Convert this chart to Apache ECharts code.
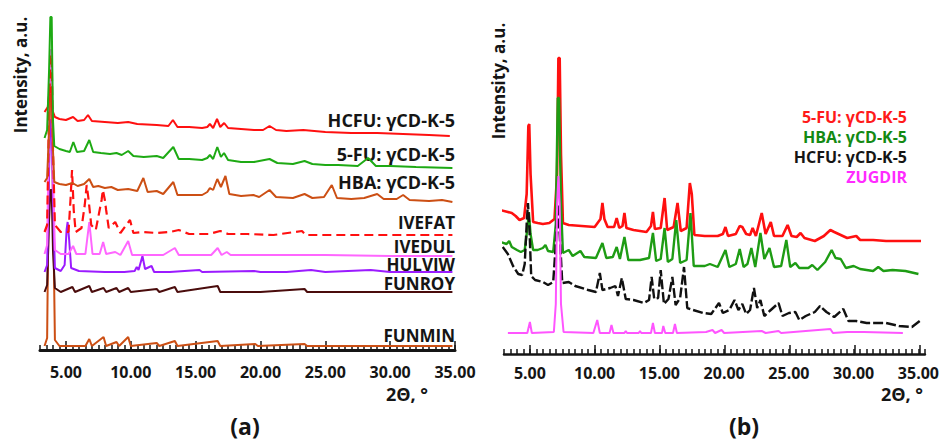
<!DOCTYPE html>
<html><head><meta charset="utf-8">
<script src="https://cdn.jsdelivr.net/npm/echarts@6/dist/echarts.min.js"></script>
<style>html,body{margin:0;padding:0;background:#fff}#c{width:942px;height:442px}</style>
</head><body><div id="c"></div>
<script>
// ---------- tick labels ----------
const tickLabels = [5, 10, 15, 20, 25, 30, 35];

// ---------- panel (a) series: [2θ, intensity a.u. (offset)] ----------
const hcfuA = [[3.35,238],[3.6,243],[3.75,262],[3.85,262],[3.95,240],[4.15,233],[4.5,231],[5.0,230],[5.55,233],[5.9,229],[6.4,230],[6.7,235],[7.0,229],[8.0,228],[9.0,227],[9.8,228],[10.5,226],[12.0,225],[12.9,224],[13.25,230],[13.6,223],[14.5,223],[15.5,222],[15.9,223],[16.1,226],[16.35,222],[16.65,231],[16.9,223],[17.2,227],[17.5,222],[18.5,221],[19.5,220],[20.2,220],[20.7,224],[21.2,220],[22,219],[23.3,220],[25,218],[27,217],[29,217],[31,216],[33,215],[34.6,214]];
const fuA = [[3.35,212],[3.55,220],[3.7,280],[3.8,333],[3.9,333],[4.0,230],[4.1,204],[4.5,201],[5.0,199],[5.3,198],[5.57,208],[5.85,198],[6.4,199],[6.8,210],[7.1,198],[7.7,197],[8.4,196],[8.9,197],[9.3,195],[9.8,199],[10.2,194],[11,193],[12,194],[12.5,192],[13.28,203],[13.7,191],[14.5,191],[15.5,190],[15.9,192],[16.1,195],[16.35,191],[16.67,203],[16.95,193],[17.19,197],[17.5,190],[18.5,188],[19.5,188],[20.7,191],[21.3,187],[22.5,186],[23.4,189],[24,186],[25,185],[26,185],[27.5,184],[28.3,192],[28.9,184],[30,184],[32,183],[34.8,182]];
const hbaA = [[3.35,168],[3.55,172],[3.7,220],[3.8,255],[3.9,255],[4.0,200],[4.1,168],[4.5,166],[5.0,165],[5.5,167],[5.9,164],[6.4,166],[6.8,171],[7.1,163],[7.5,164],[8.0,162],[8.5,163],[9.0,160],[9.8,161],[10.5,159],[10.97,172],[11.3,158],[12.0,159],[12.5,156],[13.28,168],[13.6,155],[14.5,155],[15.5,155],[15.9,158],[16.1,162],[16.35,160],[16.67,171],[16.95,163],[17.3,174],[17.6,156],[18.5,154],[19.45,155],[19.9,153],[20.7,160],[21.2,153],[22.5,152],[23.4,156],[24,152],[24.9,153],[25.5,165],[25.9,152],[27,151],[28,152],[29,156],[29.5,151],[30.5,151],[31,155],[31.5,150],[33,149],[34,150],[34.8,148]];
const ivefatA = [[3.35,118],[3.55,125],[3.7,240],[3.8,295],[3.9,295],[4.0,200],[4.15,125],[4.6,118],[5.2,118],[5.35,150],[5.47,180],[5.6,140],[5.75,118],[6.2,122],[6.45,145],[6.6,165],[6.75,150],[6.95,125],[7.3,120],[7.75,150],[7.85,160],[8.0,150],[8.1,140],[8.3,122],[8.8,128],[9.2,117],[9.94,130],[10.2,117],[11,118],[12,117],[13,118],[13.7,120],[14.5,116],[16.0,116],[16.9,119],[17.5,116],[19,116],[21,115],[23.2,119],[23.5,115],[26,115],[30,115],[34.8,115]];
const ivedulA = [[3.35,96],[3.55,105],[3.7,230],[3.8,300],[3.9,300],[4.0,180],[4.15,100],[4.6,96],[5.2,96],[5.55,104],[5.8,96],[6.5,96],[6.8,128],[7.05,96],[7.6,96],[7.87,108],[8.1,96],[8.8,98],[9.2,95],[9.8,109],[10.1,95],[11,95],[12.5,95],[13.4,102],[13.7,95],[15,95],[16.2,95],[16.7,102],[17.0,95],[17.4,98],[17.7,95],[20,95],[25,95],[30,94],[34.8,94]];
const hulviwA = [[3.35,78],[3.55,85],[3.7,180],[3.8,230],[3.9,230],[4.0,150],[4.15,82],[4.6,79],[4.9,85],[5.05,120],[5.13,128],[5.25,110],[5.4,82],[6,79],[8,78],[9.5,78],[10.3,79],[10.46,83],[10.6,80],[10.9,94],[11.1,81],[11.6,84],[11.8,78],[13,78],[15.3,80],[15.5,78],[19.5,79],[20,78],[22,78],[23.9,80],[25,78],[28.5,80],[30,78],[34.8,78]];
const funroyA = [[3.35,58],[3.55,65],[3.7,130],[3.8,160],[3.9,160],[4.0,100],[4.15,62],[4.6,58],[5.5,63],[5.7,58],[6.8,64],[7.0,58],[7.9,62],[8.1,58],[8.9,62],[9.1,58],[9.8,62],[10,58],[12,61],[12.2,58],[13.4,63],[13.6,58],[16.7,64],[16.9,58],[20,58],[23.4,61],[23.6,58],[34.8,58]];
const funminA = [[3.35,4],[3.55,12],[3.7,200],[3.8,290],[3.9,290],[4.0,150],[4.15,10],[4.5,4],[6.5,4],[6.8,11],[7.0,4],[7.9,13],[8.1,4],[8.9,8],[9.1,4],[9.8,13],[10,4],[12.0,7],[12.2,4],[13.4,9],[13.6,4],[16.7,9],[16.9,4],[19.6,6],[19.8,4],[23.4,6],[23.6,4],[34.8,4]];

// ---------- panel (b) series ----------
const fuB = [[2.7,144],[3.3,142],[3.6,141],[3.9,138],[4.2,134],[4.55,136],[4.75,160],[4.88,228],[4.95,230],[5.05,180],[5.25,132],[5.6,131],[6.0,130],[6.5,131],[6.9,135],[7.1,180],[7.2,296],[7.3,296],[7.4,200],[7.55,131],[8,129],[9,128],[10,127],[10.45,135],[10.6,151],[10.75,135],[11.0,127],[11.5,127],[11.7,136],[11.9,126],[12.15,128],[12.3,141],[12.45,126],[13,124],[14,122],[14.35,128],[14.5,142],[14.65,125],[15.1,126],[15.4,156],[15.6,124],[16.1,127],[16.4,151],[16.65,123],[17.1,126],[17.35,171],[17.5,160],[17.7,119],[18.5,118],[19.5,118],[19.9,120],[20.1,127],[20.3,118],[20.9,120],[21.2,128],[21.4,127],[21.7,120],[22.0,119],[22.2,126],[22.45,118],[22.9,141],[23.2,120],[23.6,132],[23.85,118],[24.5,118],[24.9,129],[25.2,118],[25.6,117],[25.9,121],[26.2,116],[27,113],[27.7,118],[28.2,124],[28.5,122],[29,119],[29.5,116],[30.2,118],[30.5,114],[31.5,114],[32.5,113],[33.5,113],[35.2,113]];
const hbaB = [[2.7,112],[3.2,110],[3.4,113],[3.6,107],[4.0,104],[4.3,102],[4.6,104],[4.8,125],[4.92,142],[5.05,120],[5.25,104],[5.6,104],[6.0,106],[6.2,109],[6.4,103],[6.8,102],[7.0,130],[7.15,256],[7.25,256],[7.4,150],[7.55,101],[8.0,104],[8.3,98],[8.9,103],[9.2,97],[10.1,96],[10.6,111],[10.9,96],[11.4,97],[11.7,107],[11.95,95],[12.3,117],[12.6,94],[13.5,94],[14.2,96],[14.5,121],[14.75,93],[15.1,95],[15.4,126],[15.65,92],[16.0,95],[16.3,134],[16.6,91],[17.1,94],[17.4,141],[17.65,88],[18.5,88],[18.9,90],[19.5,87],[20.1,104],[20.4,87],[20.9,90],[21.2,105],[21.5,87],[21.8,90],[22.1,106],[22.4,87],[22.8,121],[23.1,95],[23.5,106],[23.85,87],[24.4,88],[24.8,114],[25.1,87],[25.5,91],[25.8,86],[26.5,86],[26.8,89],[27.2,84],[27.8,92],[28.3,104],[28.6,96],[29.0,95],[29.4,86],[30,88],[30.5,85],[31.5,83],[31.9,87],[32.3,83],[33,84],[34,83],[35,80]];
const hcfuB = [[2.9,107],[3.3,100],[3.7,88],[4.1,80],[4.4,79],[4.6,90],[4.75,130],[4.85,151],[4.95,130],[5.1,78],[5.4,74],[6.0,72],[6.4,69],[6.8,72],[7.0,110],[7.15,150],[7.3,120],[7.5,71],[8.0,72],[8.5,68],[9.5,64],[10.1,62],[10.4,81],[10.6,64],[11.2,66],[11.6,68],[11.8,58],[12.1,76],[12.4,55],[13.0,54],[13.8,51],[14.2,54],[14.4,77],[14.6,55],[14.9,56],[15.1,84],[15.35,50],[15.7,55],[16.0,77],[16.25,49],[16.6,56],[16.9,87],[17.15,46],[17.6,44],[18.4,41],[19.0,40],[19.6,51],[19.9,41],[20.4,44],[20.8,54],[21.1,44],[21.4,50],[21.7,40],[22.0,44],[22.3,66],[22.55,46],[22.8,54],[23.1,38],[23.6,44],[24.2,51],[24.5,38],[25.0,41],[25.5,42],[25.8,34],[26.3,38],[27.0,42],[27.4,48],[27.9,42],[28.5,37],[29.2,45],[29.6,33],[30.2,33],[31,31],[31.5,31],[32.5,31],[33.5,28],[34.5,27],[35.2,34]];
const zugdirB = [[3.3,21],[4.8,21],[5.0,32],[5.15,21],[6.85,22],[7.0,50],[7.1,150],[7.2,178],[7.3,150],[7.4,50],[7.6,22],[9.9,21],[10.2,34],[10.4,21],[11.15,21],[11.3,29],[11.45,21],[12.3,21],[12.4,23],[12.5,21],[13.4,21],[13.5,23],[13.6,21],[14.35,21],[14.5,31],[14.65,21],[15.2,21],[15.3,28],[15.45,21],[16.05,21],[16.2,30],[16.35,21],[18.6,22],[19.1,24],[19.3,21],[19.8,24],[20.0,21],[22.9,23],[23.2,21],[24.2,23],[24.4,21],[28.2,25],[28.4,21],[29.5,22],[30.8,22],[33.8,21]];

const FONT = '"Open Sans", "DejaVu Sans", sans-serif';
const INK = '#151515';

function mainX(gi, max, lw, margin) {
  return {
    type: 'value', gridIndex: gi, position: 'bottom', min: 3, max: max, interval: 0.5,
    axisLine: { show: true, onZero: false, lineStyle: { color: INK, width: lw } },
    axisTick: { show: true, inside: true, length: 5, lineStyle: { color: INK, width: 1.5 } },
    axisLabel: { show: true, customValues: tickLabels, formatter: v => v.toFixed(2),
      fontFamily: FONT, fontWeight: 'bold', fontSize: 16, color: INK, margin: margin },
    splitLine: { show: false }
  };
}
function majorX(gi, max) {
  return {
    type: 'value', gridIndex: gi, position: 'bottom', min: 3, max: max, interval: 0.5,
    axisLine: { show: false, onZero: false },
    axisTick: { show: true, inside: true, length: 9, customValues: tickLabels, lineStyle: { color: INK, width: 1.5 } },
    axisLabel: { show: false }, splitLine: { show: false }
  };
}
function yAx(gi, max) {
  return { type: 'value', gridIndex: gi, min: 0, max: max, show: false };
}
function ser(name, data, color, xi, yi, width, dash) {
  return {
    name: name, type: 'line', data: data, xAxisIndex: xi, yAxisIndex: yi,
    symbol: 'none', showSymbol: false, clip: false, animation: false,
    lineStyle: { color: color, width: width, type: dash || 'solid' }
  };
}
function txt(x, y, s, color, size, align, rot) {
  return {
    type: 'text', x: x, y: y, rotation: rot || 0,
    style: { text: s, fill: color, font: 'bold ' + size + 'px ' + FONT,
      textAlign: align, textVerticalAlign: 'middle' }
  };
}

const gridA = { left: 40, right: 487, top: 17, bottom: 92 };
const gridB = { left: 504, right: 15.5, top: 20, bottom: 88 };

const chart = echarts.init(document.getElementById('c'), null, { renderer: 'svg' });
chart.setOption({
  backgroundColor: '#ffffff',
  animation: false,
  grid: [gridA, gridB, Object.assign({}, gridA), Object.assign({}, gridB)],
  xAxis: [mainX(0, 35, 3, 14), mainX(1, 35.5, 2.5, 11), majorX(2, 35), majorX(3, 35.5)],
  yAxis: [yAx(0, 333), yAx(1, 334), yAx(2, 333), yAx(3, 334)],
  series: [
    ser('FUNMIN', funminA, '#cc4f14', 0, 0, 2),
    ser('FUNROY', funroyA, '#4a0c0c', 0, 0, 2),
    ser('HULVIW', hulviwA, '#9b1bff', 0, 0, 2),
    ser('IVEDUL', ivedulA, '#ff66ff', 0, 0, 2),
    ser('IVEFAT', ivefatA, '#ff1010', 0, 0, 2.2, [9, 5]),
    ser('HBA: γCD-K-5 (a)', hbaA, '#cc4f14', 0, 0, 2),
    ser('HCFU: γCD-K-5 (a)', hcfuA, '#ff1010', 0, 0, 2),
    ser('5-FU: γCD-K-5 (a)', fuA, '#1eaa14', 0, 0, 2),
    ser('5-FU: γCD-K-5', fuB, '#ff1010', 1, 1, 2.6),
    ser('HBA: γCD-K-5', hbaB, '#1e9c14', 1, 1, 2.4),
    ser('HCFU: γCD-K-5', hcfuB, '#111111', 1, 1, 2.4, [10, 3]),
    ser('ZUGDIR', zugdirB, '#ff55ff', 1, 1, 2)
  ],
  graphic: [
    txt(20, 75, 'Intensity, a.u.', INK, 17, 'center', Math.PI / 2),
    txt(498, 81, 'Intensity, a.u.', INK, 17, 'center', Math.PI / 2),
    txt(455, 120, 'HCFU: γCD-K-5', INK, 18, 'right'),
    txt(455, 154, '5-FU: γCD-K-5', INK, 18, 'right'),
    txt(455, 182, 'HBA: γCD-K-5', INK, 18, 'right'),
    txt(455, 222, 'IVEFAT', INK, 17, 'right'),
    txt(455, 246, 'IVEDUL', INK, 17, 'right'),
    txt(455, 264, 'HULVIW', INK, 17, 'right'),
    txt(455, 283, 'FUNROY', INK, 17, 'right'),
    txt(455, 335, 'FUNMIN', INK, 17, 'right'),
    txt(907, 117, '5-FU: γCD-K-5', '#ff1a1a', 16, 'right'),
    txt(907, 137, 'HBA: γCD-K-5', '#138a13', 16, 'right'),
    txt(907, 157, 'HCFU: γCD-K-5', INK, 16, 'right'),
    txt(907, 177, 'ZUGDIR', '#ff2bff', 16, 'right'),
    txt(407, 394, '2Θ, °', INK, 18, 'center'),
    txt(902, 394, '2Θ, °', INK, 18, 'center'),
    txt(245, 426, '(a)', INK, 23, 'center'),
    txt(744, 426, '(b)', INK, 23, 'center')
  ]
});
</script></body></html>
